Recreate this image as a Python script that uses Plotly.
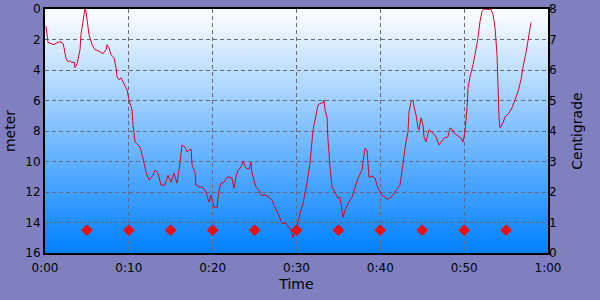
import base64
import plotly.graph_objects as go

# Time in minutes, depth in meters
time_min = [0.12, 0.24, 0.36, 0.72, 1.07, 1.43, 1.79, 2.15, 2.27, 2.5, 2.74, 2.98, 3.22, 3.46, 3.58, 3.82, 3.94,
            4.18, 4.29, 4.53, 4.77, 4.89, 5.01, 5.25, 5.61, 5.96, 6.32, 6.56, 6.92, 7.28, 7.4, 7.63, 7.87, 8.23,
            8.47, 8.59, 8.83, 9.07, 9.3, 9.54, 9.78, 10.02, 10.26, 10.38, 10.5, 10.74, 10.97, 11.33, 11.69, 12.05,
            12.41, 12.64, 12.88, 13.12, 13.48, 13.84, 14.31, 14.67, 15.03, 15.39, 15.75, 16.1, 16.34, 16.7, 16.94,
            17.18, 17.42, 17.54, 17.89, 18.01, 18.49, 18.85, 19.21, 19.56, 19.8, 20.16, 20.52, 20.76, 21.0, 21.35,
            21.71, 22.07, 22.31, 22.55, 22.78, 23.02, 23.38, 23.62, 23.98, 24.34, 24.57, 24.69, 25.17, 25.53,
            25.77, 26.36, 26.72, 27.08, 27.32, 27.91, 28.27, 28.75, 29.11, 29.35, 29.58, 29.82, 30.06, 30.42,
            30.78, 31.25, 31.61, 31.97, 32.33, 32.57, 32.92, 33.16, 33.28, 33.4, 33.64, 33.76, 34.0, 34.24, 34.59,
            34.95, 35.19, 35.55, 35.79, 36.14, 36.62, 36.98, 37.34, 37.81, 38.17, 38.41, 38.65, 39.01, 39.37,
            39.72, 40.2, 40.56, 40.92, 41.39, 41.87, 42.35, 42.59, 42.83, 43.06, 43.3, 43.42, 43.66, 43.9, 44.02,
            44.26, 44.5, 44.61, 44.85, 45.09, 45.21, 45.45, 45.69, 45.81, 46.28, 46.64, 47.0, 47.24, 47.6, 48.07,
            48.31, 48.55, 48.79, 49.27, 49.62, 49.86, 50.1, 50.34, 50.46, 50.7, 50.94, 51.06, 51.29, 51.65,
            51.89, 52.13, 52.37, 52.85, 53.2, 53.44, 53.68, 53.92, 54.04, 54.16, 54.28, 54.63, 54.87, 55.35,
            55.71, 56.07, 56.42, 56.78, 57.02, 57.38, 57.62, 57.74, 57.97]
depth_m = [1.13, 1.88, 2.2, 2.27, 2.34, 2.2, 2.14, 2.27, 2.53, 3.26, 3.46, 3.39, 3.52, 3.46, 3.85, 3.59, 3.32,
           2.67, 1.68, 0.69, 0.0, 0.16, 0.69, 1.68, 2.34, 2.67, 2.73, 2.8, 2.93, 2.67, 2.34, 2.53, 3.0, 3.19,
           3.85, 4.44, 4.64, 4.51, 4.77, 4.97, 5.3, 5.96, 6.35, 6.62, 7.6, 8.72, 8.85, 9.05, 9.78, 10.7,
           11.22, 11.03, 10.9, 10.57, 10.76, 11.55, 11.55, 10.9, 11.36, 10.76, 11.42, 10.11, 8.92, 9.05, 9.38,
           9.25, 9.18, 10.24, 10.7, 11.55, 11.69, 11.69, 12.01, 12.67, 12.21, 13.0, 13.0, 11.88, 11.42, 11.36,
           11.03, 11.03, 11.09, 11.75, 11.03, 10.57, 10.37, 9.97, 10.43, 10.5, 10.04, 10.76, 11.69, 11.88,
           12.21, 12.21, 12.34, 12.54, 12.87, 13.53, 14.06, 14.06, 14.32, 14.52, 14.98, 14.65, 14.19, 13.4,
           12.74, 11.42, 10.11, 7.93, 6.81, 6.29, 6.16, 6.16, 5.96, 6.63, 7.08, 8.59, 10.37, 11.69, 12.01,
           12.41, 12.34, 13.66, 13.2, 12.74, 12.34, 11.75, 11.09, 10.57, 9.12, 9.25, 11.03, 10.96, 11.09,
           11.75, 12.21, 12.34, 12.48, 12.28, 11.88, 11.55, 10.57, 9.58, 8.72, 8.06, 6.75, 6.09, 5.96, 6.42,
           6.95, 7.8, 7.93, 7.14, 7.6, 8.39, 8.72, 8.13, 7.93, 8.13, 8.39, 8.92, 8.72, 8.46, 8.39,
           7.8, 7.87, 8.13, 8.33, 8.46, 8.72, 8.06, 6.48, 5.17, 4.44, 3.98, 3.65, 3.0, 1.88,
           0.82, 0.16, 0.0, 0.03, 0.03, 0.36, 1.22, 3.0, 5.17, 7.14, 7.8, 7.47, 7.08, 6.81,
           6.48, 5.96, 5.43, 4.64, 3.79, 2.86, 2.14, 1.55, 0.89]

marker_time = [5, 10, 15, 20, 25, 30, 35, 40, 45, 50, 55]
marker_depth = [14.5] * len(marker_time)

x_ticks = [0, 10, 20, 30, 40, 50, 60]
x_tick_text = ["0:00", "0:10", "0:20", "0:30", "0:40", "0:50", "1:00"]
depth_range = [16, 0]
temp_range = [0, 8]

font = dict(family="DejaVu Sans", size=12, color="black")

svg = ('<svg xmlns="http://www.w3.org/2000/svg" width="10" height="100" viewBox="0 0 10 100" '
       'preserveAspectRatio="none"><defs><linearGradient id="g" x1="0" y1="0" x2="0" y2="1">'
       '<stop offset="0" stop-color="#FFFFFF"/><stop offset="1" stop-color="#0080FF"/>'
       '</linearGradient></defs><rect width="10" height="100" fill="url(#g)"/></svg>')
svg_uri = "data:image/svg+xml;base64," + base64.b64encode(svg.encode()).decode()

fig = go.Figure()
fig.add_trace(go.Scatter(x=time_min, y=depth_m, mode="lines",
                         line=dict(color="rgb(225,0,35)", width=1), showlegend=False))
fig.add_trace(go.Scatter(x=marker_time, y=marker_depth, mode="markers",
                         marker=dict(symbol="diamond", size=9, color="rgb(235,15,15)"),
                         showlegend=False))
fig.add_trace(go.Scatter(x=[None], y=[None], yaxis="y2", showlegend=False, hoverinfo="skip"))

fig.add_layout_image(dict(source=svg_uri, xref="paper", yref="paper", x=0, y=1, sizex=1, sizey=1,
                          xanchor="left", yanchor="top", sizing="stretch", layer="below"))

grid = dict(showgrid=True, gridcolor="rgb(105,105,125)", griddash="4px,3px", gridwidth=1)
fig.update_layout(
    width=600, height=300,
    margin=dict(l=45, r=52, t=9, b=47, autoexpand=False),
    paper_bgcolor="rgb(128,128,192)",
    plot_bgcolor="rgba(0,0,0,0)",
    font=font,
    xaxis=dict(range=[0, 60], tickvals=x_ticks, ticktext=x_tick_text, showline=True, automargin=False,
               linecolor="black", linewidth=2, mirror=True, zeroline=False, ticks="",
               ticklabelstandoff=3, title=dict(text="Time", standoff=5), **grid),
    yaxis=dict(range=depth_range, dtick=2, showline=True, linecolor="black", linewidth=2, automargin=False,
               mirror=True, zeroline=False, ticks="", title=dict(text="meter", standoff=6), **grid),
    yaxis2=dict(range=temp_range, dtick=1, overlaying="y", side="right", showgrid=False, automargin=False,
                zeroline=False, ticks="", title=dict(text="Centigrade", standoff=16)),
)
fig.write_html("out.html")
